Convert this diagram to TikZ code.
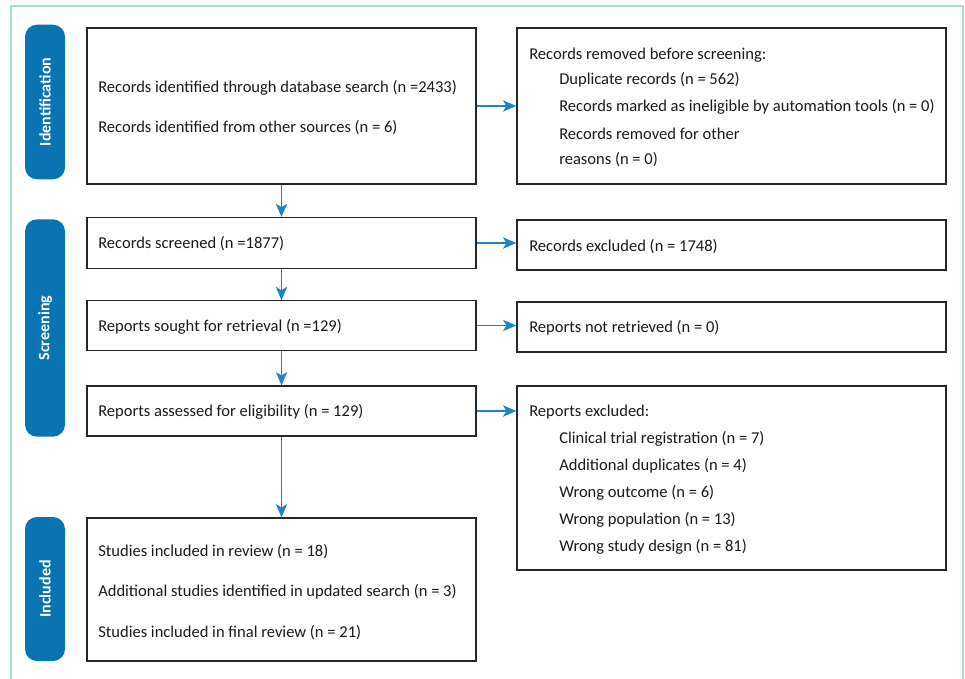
\documentclass[tikz,border=0pt]{standalone}
\usepackage{fontspec}
\setmainfont{Carlito}
\usetikzlibrary{arrows.meta}
\definecolor{pillblue}{HTML}{0A73B2}
\definecolor{arrowblue}{HTML}{1F86C6}
\definecolor{framemint}{HTML}{A6DCCF}
\tikzset{
  box/.style={draw=black!85, line width=0.9pt, inner sep=0pt, rectangle},
  pill/.style={fill=pillblue, rounded corners=9pt, inner sep=0pt},
  pilltext/.style={text=white, font=\bfseries\fontsize{12}{14}\selectfont, rotate=90},
  txt/.style={anchor=west, inner sep=0pt, font=\fontsize{12.4}{14}\selectfont, text=black!90},
  flow/.style={draw=arrowblue, line width=1.2pt, -{Stealth[length=10pt,width=8.5pt,inset=2.5pt]}},
}
\begin{document}
\begin{tikzpicture}[x=0.75pt,y=-0.75pt]
\useasboundingbox (0,0) rectangle (965,679);
% frame
\draw[framemint, line width=1.6pt] (11,679) -- (11,6) -- (963,6) -- (963,679);
% pills
\node[pill, minimum width=30pt, minimum height=116pt] (p1) at (45,102) {};
\node[pilltext] (p1t) at (p1) {Identification};
\node[pill, minimum width=30pt, minimum height=163pt] (p2) at (45,328) {};
\node[pilltext] (p2t) at (p2) {Screening};
\node[pill, minimum width=30pt, minimum height=108pt] (p3) at (45,589) {};
\node[pilltext] (p3t) at (p3) {Included};
% left boxes
\node[box, minimum width=291.75pt, minimum height=117pt] (b1) at (281.5,106) {};
\node[box, minimum width=291.75pt, minimum height=38pt] (b2) at (281.5,243) {};
\node[box, minimum width=291.75pt, minimum height=37pt] (b3) at (281.5,325.5) {};
\node[box, minimum width=291.75pt, minimum height=37.5pt] (b4) at (281.5,411) {};
\node[box, minimum width=291.75pt, minimum height=107.25pt] (b5) at (281.5,589.5) {};
% right boxes
\node[box, minimum width=321.75pt, minimum height=117pt] (r1) at (731.5,106) {};
\node[box, minimum width=321.75pt, minimum height=37.5pt] (r2) at (731.5,245) {};
\node[box, minimum width=321.75pt, minimum height=37.5pt] (r3) at (731.5,327) {};
\node[box, minimum width=321.75pt, minimum height=138pt] (r4) at (731.5,478) {};
% texts left
\node[txt] (t11) at (98,88) {Records identified through database search (n =2433)};
\node[txt] (t12) at (98,128) {Records identified from other sources (n = 6)};
\node[txt] (t2) at (98,244) {Records screened (n =1877)};
\node[txt] (t3) at (98,327) {Reports sought for retrieval (n =129)};
\node[txt] (t4) at (98,412) {Reports assessed for eligibility (n = 129)};
\node[txt] (t51) at (98,552) {Studies included in review (n = 18)};
\node[txt] (t52) at (98,592) {Additional studies identified in updated search (n = 3)};
\node[txt] (t53) at (98,633) {Studies included in final review (n = 21)};
% texts right
\node[txt] (s10) at (529,55) {Records removed before screening:};
\node[txt] (s11) at (559,80) {Duplicate records (n = 562)};
\node[txt] (s12) at (559,107) {Records marked as ineligible by automation tools (n = 0)};
\node[txt] (s13) at (559,134) {Records removed for other};
\node[txt] (s14) at (559,160) {reasons (n = 0)};
\node[txt] (s2) at (529,247) {Records excluded (n = 1748)};
\node[txt] (s3) at (529,328) {Reports not retrieved (n = 0)};
\node[txt] (s40) at (529,412) {Reports excluded:};
\node[txt] (s41) at (559,439) {Clinical trial registration (n = 7)};
\node[txt] (s42) at (559,466) {Additional duplicates (n = 4)};
\node[txt] (s43) at (559,493) {Wrong outcome (n = 6)};
\node[txt] (s44) at (559,520) {Wrong population (n = 13)};
\node[txt] (s45) at (559,547) {Wrong study design (n = 81)};
% arrows
\draw[flow] (b1.south) -- (b2.north);
\draw[flow] (b2.south) -- (b3.north);
\draw[flow] (b3.south) -- (b4.north);
\draw[flow] (b4.south) -- (b5.north);
\draw[flow] (b1.east) -- (r1.west);
\draw[flow] (b2.east) -- (b2.east -| r2.west);
\draw[flow] (b3.east) -- (b3.east -| r3.west);
\draw[flow] (b4.east) -- (b4.east -| r4.west);
\end{tikzpicture}
\end{document}
